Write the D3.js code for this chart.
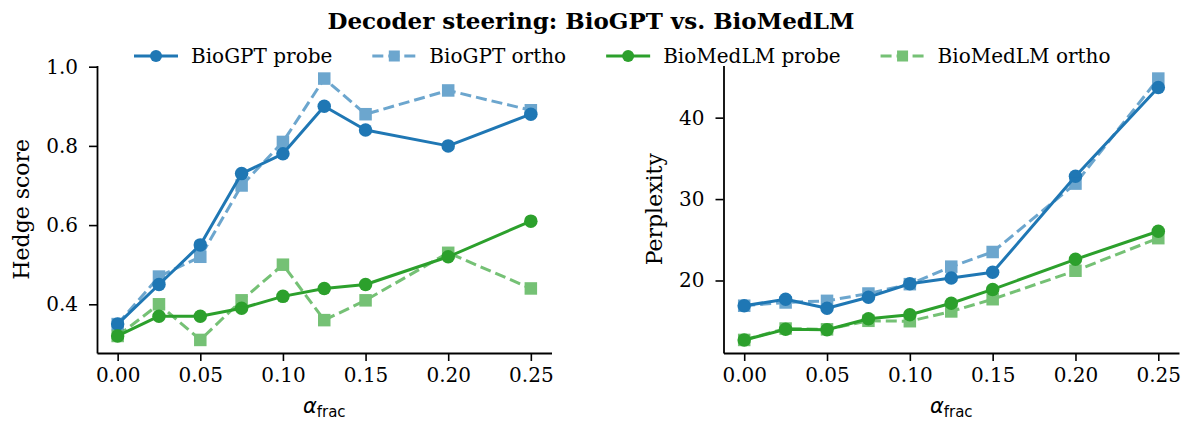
<!DOCTYPE html>
<html>
<head>
<meta charset="utf-8">
<script src="https://cdn.jsdelivr.net/npm/d3@7"></script>
<style>
  body { margin: 0; background: #fff; }
  text { fill: #000; }
</style>
</head>
<body>
<div id="chart"></div>
<script>
// steering strength fractions on the x axis
const alphas = [0, 0.025, 0.05, 0.075, 0.1, 0.125, 0.15, 0.2, 0.25];
const xTicks = [0, 0.05, 0.1, 0.15, 0.2, 0.25];

// hedge score per model / direction
const hedgeBioGPTProbe = [0.35, 0.45, 0.55, 0.73, 0.78, 0.90, 0.84, 0.80, 0.88];
const hedgeBioGPTOrtho = [0.35, 0.47, 0.52, 0.70, 0.81, 0.97, 0.88, 0.94, 0.89];
const hedgeBioMedLMProbe = [0.32, 0.37, 0.37, 0.39, 0.42, 0.44, 0.45, 0.52, 0.61];
const hedgeBioMedLMOrtho = [0.32, 0.40, 0.31, 0.41, 0.50, 0.36, 0.41, 0.53, 0.44];
const hedgeTicks = [0.4, 0.6, 0.8, 1.0];

// perplexity per model / direction
const pplBioGPTProbe = [16.9, 17.7, 16.6, 17.95, 19.6, 20.3, 21.0, 32.8, 43.7];
const pplBioGPTOrtho = [16.9, 17.3, 17.5, 18.4, 19.55, 21.7, 23.5, 31.9, 44.8];
const pplBioMedLMProbe = [12.7, 14.0, 13.95, 15.3, 15.8, 17.2, 18.9, 22.6, 26.05];
const pplBioMedLMOrtho = [12.7, 14.1, 14.0, 15.05, 15.0, 16.2, 17.7, 21.2, 25.2];
const pplTicks = [20, 30, 40];

const seriesNames = ['BioGPT probe', 'BioGPT ortho', 'BioMedLM probe', 'BioMedLM ortho'];

// style for each series (same order as names)
const blue = '#1f77b4';
const green = '#2ca02c';
const styles = [
    { color: blue, dashed: false, marker: 'circle', opacity: 1 },
    { color: blue, dashed: true, marker: 'square', opacity: 0.65 },
    { color: green, dashed: false, marker: 'circle', opacity: 1 },
    { color: green, dashed: true, marker: 'square', opacity: 0.65 }
];

const width = 1182;
const height = 423;
const serif = '"DejaVu Serif", serif';
const sans = '"DejaVu Sans", sans-serif';

const svg = d3.select('#chart').append('svg')
    .attr('width', width)
    .attr('height', height)
    .style('display', 'block')

// title
svg.append('text')
    .attr('x', 591)
    .attr('y', 29)
    .attr('text-anchor', 'middle')
    .attr('font-family', serif)
    .attr('font-weight', 'bold')
    .attr('font-size', '23px')
    .text('Decoder steering: BioGPT vs. BioMedLM')

// pads the domain by 5% each side like matplotlib does
function padded(values) {
    const [lo, hi] = d3.extent(values);
    const p = (hi - lo) * 0.05;
    return [lo - p, hi + p];
}

function drawMarker(sel, style, size) {
    if (style.marker === 'circle') {
        sel.append('circle').attr('r', size / 2);
    } else {
        sel.append('rect')
            .attr('x', -size / 2 + 0.5)
            .attr('y', -size / 2 + 0.5)
            .attr('width', size - 1)
            .attr('height', size - 1);
    }
}

function panel(opts) {
    const x = d3.scaleLinear()
        .domain(padded(alphas))
        .range([opts.left, opts.right]);
    const y = d3.scaleLinear()
        .domain(padded(opts.series.flat()))
        .range([opts.bottom, opts.top]);

    const g = svg.append('g');

    // axes (only left and bottom spines)
    g.append('g')
        .attr('transform', `translate(0, ${opts.bottom})`)
        .call(d3.axisBottom(x).tickValues(xTicks).tickFormat(d3.format('.2f')).tickSize(8).tickPadding(7).tickSizeOuter(0))
    g.append('g')
        .attr('transform', `translate(${opts.left}, 0)`)
        .call(d3.axisLeft(y).tickValues(opts.ticks).tickFormat(opts.format).tickSize(8).tickPadding(11).tickSizeOuter(0))

    g.selectAll('.domain').attr('stroke', '#000').attr('stroke-width', 1.8)
    g.selectAll('.tick line').attr('stroke', '#000').attr('stroke-width', 1.6)
    g.selectAll('.tick text')
        .attr('font-family', serif)
        .attr('font-size', '20px')
        .attr('fill', '#000')

    // y label
    g.append('text')
        .attr('transform', `translate(${opts.labelX}, ${(opts.top + opts.bottom) / 2}) rotate(-90)`)
        .attr('text-anchor', 'middle')
        .attr('font-family', serif)
        .attr('font-size', '22px')
        .text(opts.yLabel)

    // x label: alpha_frac
    const xl = g.append('text')
        .attr('x', (opts.left + opts.right) / 2)
        .attr('y', 413)
        .attr('text-anchor', 'middle')
        .attr('font-family', sans)
        .attr('font-size', '21px')
    xl.append('tspan').attr('font-style', 'italic').text('α')
    xl.append('tspan').attr('font-size', '15px').attr('dy', 4).text('frac')

    const line = d3.line()
        .x((d, i) => x(alphas[i]))
        .y(d => y(d));

    opts.series.forEach((values, k) => {
        const st = styles[k];
        const sg = g.append('g').attr('opacity', st.opacity);
        sg.append('path')
            .datum(values)
            .attr('d', line)
            .attr('fill', 'none')
            .attr('stroke', st.color)
            .attr('stroke-width', 3)
            .attr('stroke-dasharray', st.dashed ? '11,5' : null)
            .attr('stroke-linejoin', 'round')
        sg.selectAll('g.pt')
            .data(values)
            .enter().append('g')
            .attr('class', 'pt')
            .attr('transform', (d, i) => `translate(${x(alphas[i])}, ${y(d)})`)
            .attr('fill', st.color)
            .each(function () { drawMarker(d3.select(this), st, 13.5); })
    });
}

panel({
    left: 97, right: 551.5, top: 65.5, bottom: 353,
    series: [hedgeBioGPTProbe, hedgeBioGPTOrtho, hedgeBioMedLMProbe, hedgeBioMedLMOrtho],
    ticks: hedgeTicks,
    format: d3.format('.1f'),
    yLabel: 'Hedge score',
    labelX: 29
})

panel({
    left: 723.5, right: 1179, top: 65.5, bottom: 353,
    series: [pplBioGPTProbe, pplBioGPTOrtho, pplBioMedLMProbe, pplBioMedLMOrtho],
    ticks: pplTicks,
    format: d3.format('d'),
    yLabel: 'Perplexity',
    labelX: 662
})

// legend across the top, one row
const legend = svg.append('g');
let lx = 134;
seriesNames.forEach((name, k) => {
    const st = styles[k];
    const item = legend.append('g').attr('transform', `translate(${lx}, 56)`);
    const h = item.append('g').attr('opacity', st.opacity);
    h.append('line')
        .attr('x1', 0).attr('x2', 44)
        .attr('stroke', st.color)
        .attr('stroke-width', 3)
        .attr('stroke-dasharray', st.dashed ? '11,5' : null)
    const m = h.append('g').attr('transform', 'translate(22, 0)').attr('fill', st.color);
    drawMarker(m, st, 12);
    const t = item.append('text')
        .attr('x', 57)
        .attr('y', 7)
        .attr('font-family', serif)
        .attr('font-size', '20px')
        .text(name)
    lx += 57 + t.node().getComputedTextLength() + 40;
});
</script>
</body>
</html>
